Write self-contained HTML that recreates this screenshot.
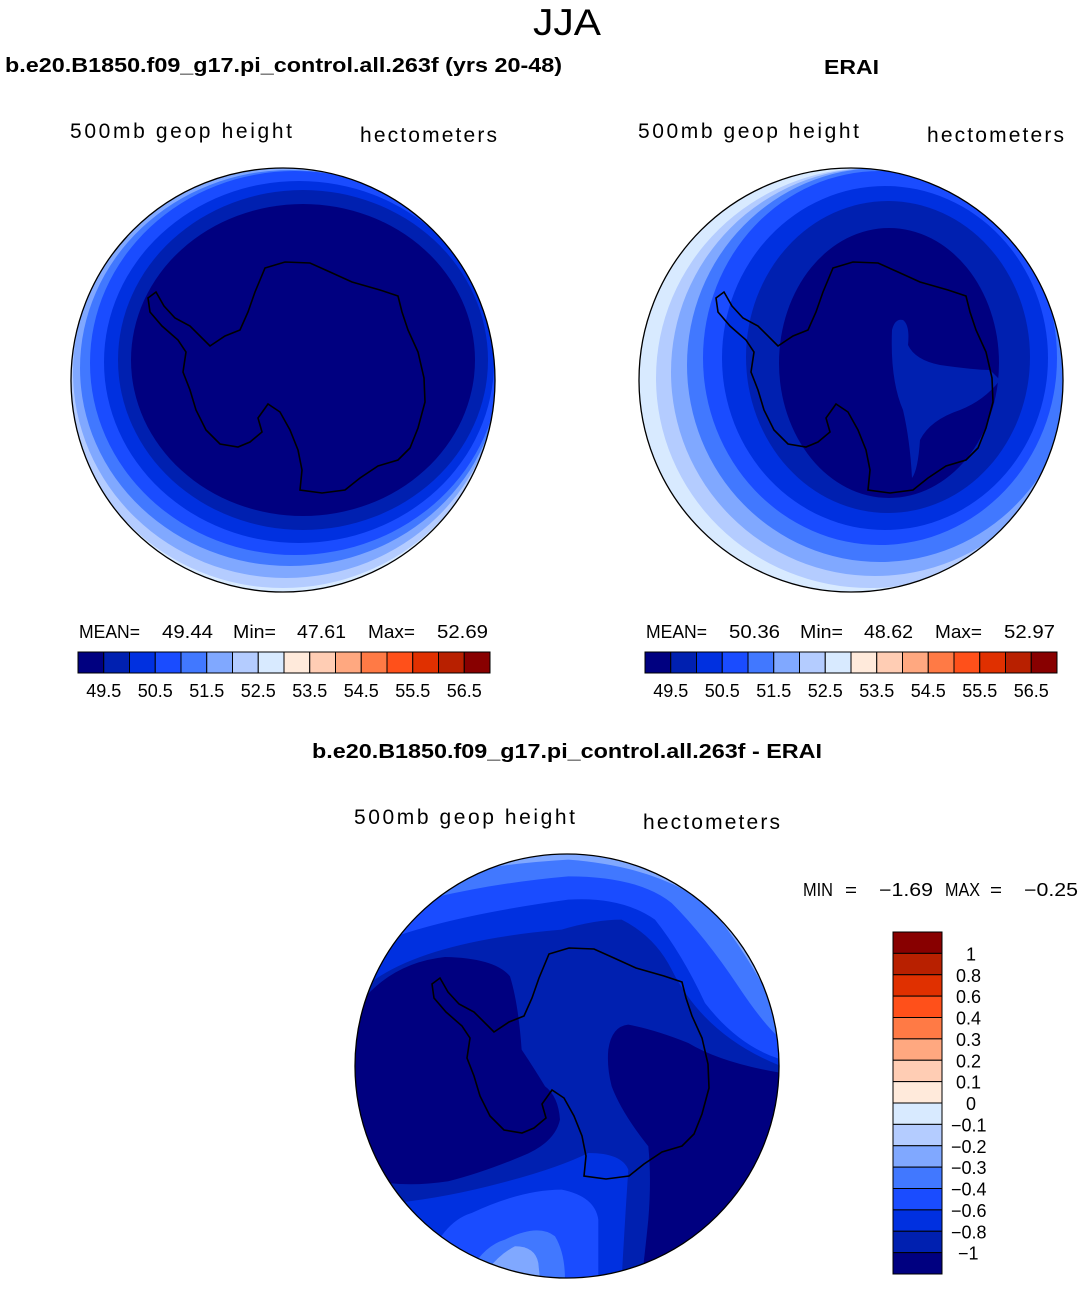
<!DOCTYPE html>
<html><head><meta charset="utf-8"><style>
body{margin:0;background:#fff;}
svg text{font-family:"Liberation Sans",sans-serif;}
</style></head><body>
<svg id="s" width="1083" height="1285" xmlns="http://www.w3.org/2000/svg">
<defs>
<clipPath id="c1"><circle cx="283" cy="380" r="212"/></clipPath>
<clipPath id="c2"><circle cx="851" cy="380" r="212"/></clipPath>
<clipPath id="c3"><circle cx="567" cy="1066" r="212"/></clipPath>
<path id="ant" d="M265,268 L285,262 L310,263 L330,272 L352,282 L380,290 L398,296 L402,312 L408,330 L418,352 L424,378 L425,402 L418,428 L410,448 L398,460 L378,466 L360,478 L345,490 L322,493 L300,490 L302,470 L298,450 L290,430 L280,412 L268,404 L258,418 L262,432 L250,442 L238,447 L220,444 L206,430 L196,410 L190,390 L183,372 L186,352 L178,340 L162,326 L150,312 L148,298 L156,292 L164,306 L175,318 L190,326 L210,346 L225,336 L240,330 L248,312 L255,292 Z" fill="none" stroke="#000" stroke-width="1.6"/>
</defs>
<g id="maps"></g>
<text x="533" y="35" font-size="37" textLength="68" lengthAdjust="spacingAndGlyphs">JJA</text>
<text x="5" y="72" font-size="20" font-weight="bold" textLength="557" lengthAdjust="spacingAndGlyphs">b.e20.B1850.f09_g17.pi_control.all.263f (yrs 20-48)</text>
<text x="824" y="74" font-size="20" font-weight="bold" textLength="55" lengthAdjust="spacingAndGlyphs">ERAI</text>
<text x="70" y="138" font-size="21" textLength="222" lengthAdjust="spacing">500mb geop height</text>
<text x="360" y="142" font-size="21" textLength="137" lengthAdjust="spacing">hectometers</text>
<text x="638" y="138" font-size="21" textLength="221" lengthAdjust="spacing">500mb geop height</text>
<text x="927" y="142" font-size="21" textLength="137" lengthAdjust="spacing">hectometers</text>
<text x="312" y="758" font-size="20" font-weight="bold" textLength="510" lengthAdjust="spacingAndGlyphs">b.e20.B1850.f09_g17.pi_control.all.263f - ERAI</text>
<text x="354" y="824" font-size="21" textLength="221" lengthAdjust="spacing">500mb geop height</text>
<text x="643" y="829" font-size="21" textLength="137" lengthAdjust="spacing">hectometers</text>
<g id="stats" font-size="18"></g>
<g id="bars"></g>
</svg>
<script>
const colors=["#000080","#0020b0","#0030e0","#1a4cff","#4178ff","#80a8ff","#b4ccff","#d8eaff","#ffeadb","#ffcdb4","#ffa880","#ff7a45","#ff501a","#e03000","#b82000","#880000"];
const absTicks=["49.5","50.5","51.5","52.5","53.5","54.5","55.5","56.5"];
const diffTicks=["1","0.8","0.6","0.4","0.3","0.2","0.1","0","−0.1","−0.2","−0.3","−0.4","−0.6","−0.8","−1"];
const leftStats=["49.44","47.61","52.69"];
const rightStats=["50.36","48.62","52.97"];
const diffStats=["−1.69","−0.25"];
// contour bands: [level, cx, cy, rx, ry]
const map1Bands=[[6,283,378,215,210],[5,286,372,213,206],[4,290,368,210,198],[3,295,363,205,192],[2,299,362,195,181],[1,303,360,185,170],[0,303,360,172,156]];
const map2Bands=[[6,870,378,214,210],[5,875,372,204,204],[4,880,365,193,197],[3,880,358,177,187],[2,885,358,163,172],[1,888,357,142,156],[0,889,363,110,135]];
const ns="http://www.w3.org/2000/svg";
const maps=document.getElementById('maps');
function mk(t,a,p){const e=document.createElementNS(ns,t);for(const k in a)e.setAttribute(k,a[k]);(p||maps).appendChild(e);return e;}
function drawMap(id,cx,cy,bg,bands,extra,extraTf,dx,dy){
  const g=mk('g',{'clip-path':'url(#'+id+')'});
  
  
  mk('rect',{x:cx-213,y:cy-213,width:426,height:426,fill:colors[bg]},g);
  bands.forEach(b=>{const e=mk('ellipse',{cx:b[1],cy:b[2],rx:b[3],ry:b[4],fill:colors[b[0]]},g);
    
    });
  const eg=mk('g',{transform:extraTf},g);
  (extra||[]).forEach(p=>{const e=mk('path',{d:p[1],fill:colors[p[0]]},eg);
    
    });
  const c=mk('use',{href:'#ant',transform:'translate('+dx+','+dy+')'},g);
  
  
  const o=mk('circle',{cx:cx,cy:cy,r:212,fill:'none',stroke:'#000','stroke-width':1.3});
  
  
}
drawMap('c1',283,380,7,map1Bands,[],'',0,0);
drawMap('c2',851,380,7,map2Bands,[[1,"M892,330 Q895,318 903,320 Q910,325 908,345 Q915,360 940,365 Q975,370 990,370 L1000,380 Q985,400 960,410 Q930,420 920,440 Q918,470 912,478 Q910,440 903,410 Q890,380 892,330Z"]],'',568,0);
const map3Regions=[
 [4,"M0,1280 L0,130 Q300,40 640,20 Q900,40 1050,150 Q1150,250 1280,500 L1280,1280Z"],
 [3,"M0,1280 L0,200 Q300,100 640,70 Q850,70 950,150 Q1050,250 1150,400 Q1230,520 1280,560 L1280,1280Z"],
 [2,"M0,1280 L0,300 Q200,200 640,140 Q800,130 900,200 Q980,300 1050,450 Q1150,580 1280,620 L1280,1280Z"],
 [1,"M0,1280 L0,430 Q150,270 620,230 Q720,200 800,200 Q900,250 950,350 Q1050,550 1280,640 L1280,1280Z"],
 [0,"M30,1000 L0,900 L0,470 Q100,330 270,312 Q420,315 465,370 Q490,450 500,590 Q540,650 570,700 Q610,730 615,800 Q600,870 500,910 Q380,960 280,985 Q180,1000 100,990 Z"],
 [0,"M760,590 Q770,520 820,515 Q900,530 1000,570 Q1100,630 1280,660 L1280,1280 L860,1280 Q870,1200 880,1100 Q890,980 880,880 Q800,780 770,700 Q755,640 760,590Z"],
 [2,"M0,1280 L0,1060 Q200,1050 400,1000 Q600,950 700,900 Q800,900 820,950 Q810,1100 800,1280Z"],
 [3,"M200,1280 Q250,1110 350,1080 Q500,1010 620,1010 Q720,1030 730,1100 L730,1280Z"],
 [4,"M330,1280 Q380,1180 450,1160 Q550,1110 600,1150 Q630,1200 630,1280Z"],
 [5,"M380,1280 Q420,1210 480,1180 Q540,1180 550,1230 L555,1280Z"]
];
drawMap('c3',567,1066,5,[],map3Regions,'translate(355,853) scale(0.3333)',284,686);
// stats
const st=document.getElementById('stats');
function txt(x,y,t,len,name){const e=mk('text',{x:x,y:y,textLength:len,lengthAdjust:'spacingAndGlyphs'},st);e.textContent=t;
  
  }
[[0,leftStats,'left'],[567,rightStats,'right']].forEach(([o,v,n])=>{
  txt(79+o,638,'MEAN=',61,n+'-mean-label');txt(162+o,638,v[0],51,n+'-mean-value');
  txt(233+o,638,'Min=',43,n+'-min-label');txt(297+o,638,v[1],49,n+'-min-value');
  txt(368+o,638,'Max=',47,n+'-max-label');txt(437+o,638,v[2],51,n+'-max-value');
});
txt(803,896,'MIN',30,'diff-min-label');txt(845,896,'=',12,'diff-eq');txt(879,896,diffStats[0],54,'diff-min-value');
txt(945,896,'MAX',35,'diff-max-label');txt(990,896,'=',12,'diff-eq');txt(1024,896,diffStats[1],54,'diff-max-value');
// colorbars
const bars=document.getElementById('bars');
function hbar(x0,name){
  const w=412/16;
  colors.forEach((c,i)=>{const r=mk('rect',{x:x0+i*w,y:652,width:w,height:21,fill:c,stroke:'#000','stroke-width':1},bars);
    
    });
  absTicks.forEach((t,i)=>{const e=mk('text',{x:x0+(1+2*i)*w,y:697,'font-size':18,'text-anchor':'middle'},bars);e.textContent=t;
    
    });
}
hbar(78,'left-colorbar');hbar(645,'right-colorbar');
const h=342/16;
colors.slice().reverse().forEach((c,i)=>{const r=mk('rect',{x:893,y:932+i*h,width:49,height:h,fill:c,stroke:'#000','stroke-width':1},bars);
  
  });
diffTicks.forEach((t,i)=>{const e=mk('text',{x:t.startsWith('−')?(t.length>2?951:958):(t.length>1?956:966),y:932+(i+1)*h+7,'font-size':18},bars);e.textContent=t;
  
  });
</script>
</body></html>
